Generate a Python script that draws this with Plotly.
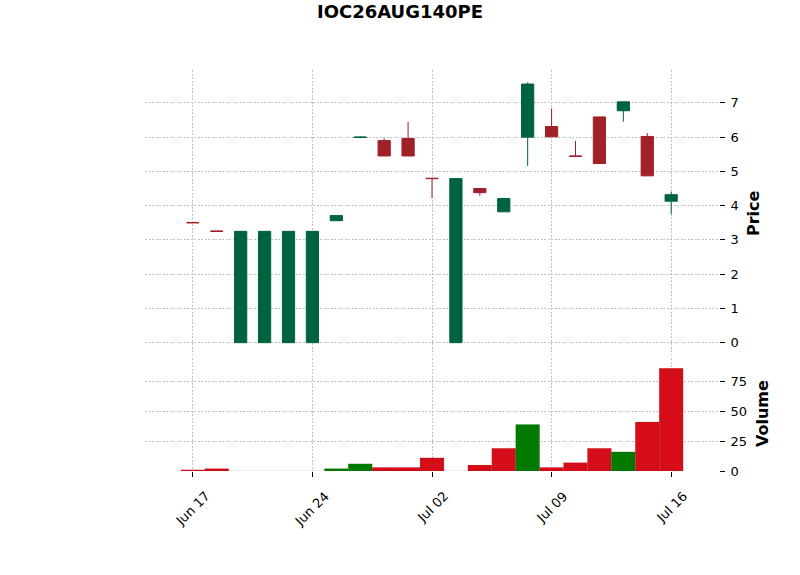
import pandas as pd
import plotly.graph_objects as go
from plotly.subplots import make_subplots

title = "IOC26AUG140PE"
dates = ["2024-06-17", "2024-06-18", "2024-06-19", "2024-06-20", "2024-06-21",
         "2024-06-24", "2024-06-25", "2024-06-26", "2024-06-27", "2024-06-28",
         "2024-07-02", "2024-07-03", "2024-07-04", "2024-07-05", "2024-07-08",
         "2024-07-09", "2024-07-10", "2024-07-11", "2024-07-12", "2024-07-15",
         "2024-07-16"]
opens = [3.51, 3.26, 0.00, 0.00, 0.00, 0.00, 3.56, 5.99, 5.90, 5.96, 4.80,
         0.00, 4.50, 3.82, 6.00, 6.31, 5.45, 6.59, 6.77, 6.02, 4.13]
highs = [3.51, 3.26, 3.25, 3.25, 3.25, 3.25, 3.71, 6.03, 5.97, 6.45, 4.80,
         4.79, 4.50, 4.21, 7.60, 6.84, 5.89, 6.59, 7.03, 6.12, 4.41]
lows = [3.50, 3.25, 0.00, 0.00, 0.00, 0.00, 3.56, 5.97, 5.45, 5.45, 4.22,
        0.00, 4.29, 3.82, 5.16, 6.01, 5.44, 5.23, 6.45, 4.87, 3.75]
closes = [3.50, 3.25, 3.25, 3.25, 3.25, 3.25, 3.71, 6.00, 5.45, 5.45, 4.79,
          4.79, 4.38, 4.21, 7.55, 6.01, 5.44, 5.23, 7.03, 4.87, 4.32]
volumes = [1, 2, 0, 0, 0, 0, 2, 6, 3, 3, 11, 0, 5, 19, 39, 3, 7, 19, 16, 41, 86]
tick_dates = ["2024-06-17", "2024-06-24", "2024-07-02", "2024-07-09", "2024-07-16"]

UP, DOWN = "#006340", "#a02128"
VUP, VDOWN = "#007a00", "#d50d18"
vol_colors = [VUP if i > 0 and closes[i] > closes[i - 1] else VDOWN
              for i in range(len(closes))]
tick_text = [pd.Timestamp(d).strftime("%b %d") for d in tick_dates]

# layout geometry (pixels)
L, R, T, B = 145, 719, 70, 471
PW, PH = R - L, B - T

def py(pix):
    return (B - pix) / PH

def px(pix):
    return (pix - L) / PW

fig = make_subplots(rows=2, cols=1, shared_xaxes=True, vertical_spacing=0)
fig.add_trace(go.Candlestick(
    x=dates, open=opens, high=highs, low=lows, close=closes,
    increasing=dict(line=dict(color=UP, width=1), fillcolor=UP),
    decreasing=dict(line=dict(color=DOWN, width=1), fillcolor=DOWN),
    whiskerwidth=0, showlegend=False), row=1, col=1)
fig.add_trace(go.Bar(
    x=dates, y=volumes,
    marker=dict(color=vol_colors, line=dict(width=0.5, color="rgba(0,0,0,0.15)")),
    width=1.0, showlegend=False), row=2, col=1)

grid = dict(showgrid=True, gridcolor="#c2c2c2", griddash="2px,1.5px", gridwidth=0.8,
            zeroline=False, showline=False)
tickfont = dict(family="DejaVu Sans", size=13, color="black")

fig.update_xaxes(type="category", range=[-2, 22], tickvals=tick_dates, ticktext=tick_text,
                 rangeslider_visible=False, tickfont=tickfont, showticklabels=False, **grid)
fig.update_xaxes(ticks="", row=1, col=1)
fig.update_xaxes(ticks="outside", ticklen=5, tickcolor="black", row=2, col=1)

fig.update_yaxes(side="right", ticks="outside", ticklen=5, tickcolor="black",
                 tickfont=tickfont, ticklabelstandoff=3, **grid)
fig.update_yaxes(range=[-0.36, 7.96], dtick=1, domain=[py(355), 1.0], row=1, col=1)
fig.update_yaxes(range=[0, 94.6], tickvals=[0, 25, 50, 75], domain=[0, py(358)], row=2, col=1)

annotations = [
    dict(text="<b>Price</b>", xref="paper", yref="paper", x=px(753), y=py(213),
         xanchor="center", yanchor="middle", textangle=-90, showarrow=False,
         font=dict(family="DejaVu Sans", size=16, color="black")),
    dict(text="<b>Volume</b>", xref="paper", yref="paper", x=px(762), y=py(414),
         xanchor="center", yanchor="middle", textangle=-90, showarrow=False,
         font=dict(family="DejaVu Sans", size=16, color="black")),
]
for d, t in zip(tick_dates, tick_text):
    annotations.append(dict(text=t, xref="x2", yref="paper", x=d, y=py(486),
                            xanchor="center", yanchor="top", textangle=-45,
                            showarrow=False, font=tickfont))

fig.update_layout(
    width=800, height=575, template="none",
    paper_bgcolor="white", plot_bgcolor="white",
    margin=dict(l=L, r=800 - R, t=T, b=575 - B),
    boxgap=0.27,
    font=dict(family="DejaVu Sans", color="black"),
    title=dict(text="<b>" + title + "</b>", x=0.5, xanchor="center", y=1 - 12 / 575,
               yanchor="middle", yref="container",
               font=dict(family="DejaVu Sans", size=18, color="black")),
    annotations=annotations,
)

fig.write_html("out.html")
